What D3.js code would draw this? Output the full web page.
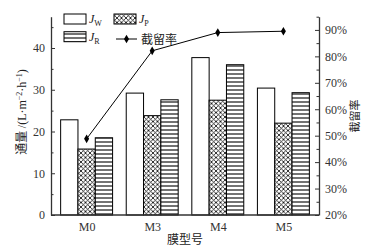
<!DOCTYPE html>
<html><head><meta charset="utf-8">
<script src="https://cdn.jsdelivr.net/npm/d3@7"></script>
<style>body{margin:0;background:#fff}svg{display:block}</style>
</head><body>
<svg id="c" width="370" height="249"></svg>
<script>
const categories = ["M0","M3","M4","M5"];
const jw = [22.8, 29.2, 37.7, 30.4];
const jp = [15.8, 23.8, 27.5, 22.0];
const jr = [18.5, 27.6, 36.0, 29.3];
const retention = [48.8, 82.1, 89.0, 89.5];
const leftTicks = [0,10,20,30,40];
const rightTicks = [20,30,40,50,60,70,80,90];

const svg = d3.select("#c");
const L = 51, R = 319, T = 16.7, B = 215;
const serif = "'Liberation Serif','Times New Roman',serif";
const cjk = "'Noto Sans CJK SC','Liberation Serif',serif";

const defs = svg.append("defs");
const ph = defs.append("pattern").attr("id","hatch").attr("patternUnits","userSpaceOnUse").attr("width",4.5).attr("height",4.5);
ph.append("rect").attr("width",4.5).attr("height",4.5).attr("fill","#fff");
ph.append("path").attr("d","M0,0L4.5,4.5M4.5,0L0,4.5M-1,1L1,-1M3.5,5.5L5.5,3.5M-1,3.5L1,5.5M3.5,-1L5.5,1").attr("stroke","#000").attr("stroke-width",0.8);
const pr = defs.append("pattern").attr("id","hlines").attr("patternUnits","userSpaceOnUse").attr("width",4).attr("height",4);
pr.append("rect").attr("width",4).attr("height",4).attr("fill","#fff");
pr.append("line").attr("x1",0).attr("x2",4).attr("y1",2).attr("y2",2).attr("stroke","#000").attr("stroke-width",1.1);

const x = d3.scalePoint().domain(categories).range([L,R]).padding(0.543);
const step = x.step();
const bw = step*0.264;
const y = d3.scaleLinear().domain([0,47.5]).range([B,T]);
const y2 = d3.scaleLinear().domain([20,95]).range([B,T]);

const series = [
  {vals: jw, fill: "#fff", off: -1.5},
  {vals: jp, fill: "url(#hatch)", off: -0.5},
  {vals: jr, fill: "url(#hlines)", off: 0.5}
];
series.forEach(s => {
  svg.append("g").selectAll("rect").data(categories).join("rect")
    .attr("x", (d) => x(d) + s.off*bw)
    .attr("y", (d,i) => y(s.vals[i]))
    .attr("width", bw)
    .attr("height", (d,i) => B - y(s.vals[i]))
    .attr("fill", s.fill).attr("stroke","#000").attr("stroke-width",1);
});

// axes
const axL = svg.append("g").attr("transform",`translate(${L},0)`)
  .call(d3.axisLeft(y).tickValues(leftTicks).tickSizeInner(-4).tickSizeOuter(0).tickPadding(8));
svg.append("g").attr("transform",`translate(${L},0)`)
  .call(d3.axisLeft(y).tickValues([5,15,25,35,45]).tickSize(-2.5).tickFormat("")).call(g=>g.select(".domain").remove());
const axR = svg.append("g").attr("transform",`translate(${R},0)`)
  .call(d3.axisRight(y2).tickValues(rightTicks).tickSizeInner(-4).tickSizeOuter(0).tickPadding(8).tickFormat(d=>d+"%"));
svg.append("g").attr("transform",`translate(${R},0)`)
  .call(d3.axisRight(y2).tickValues([25,35,45,55,65,75,85,95]).tickSize(-2.5).tickFormat("")).call(g=>g.select(".domain").remove());
const axB = svg.append("g").attr("transform",`translate(0,${B})`)
  .call(d3.axisBottom(x).tickSize(0).tickPadding(7));
axB.select(".domain").attr("d",`M${L},0H${R}`);
svg.selectAll(".domain").attr("stroke","#333").attr("stroke-width",1.3);
svg.selectAll(".tick line").attr("stroke","#333").attr("stroke-width",1);
svg.selectAll(".tick text").attr("font-family",serif).attr("font-size",12).attr("fill","#333");
axL.selectAll(".tick text").attr("dx",2);
axR.selectAll(".tick text").attr("dx",-2);

// retention line
const line = d3.line().x((d,i)=>x(categories[i])).y(d=>y2(d));
svg.append("path").datum(retention).attr("d",line).attr("fill","none").attr("stroke","#000").attr("stroke-width",1);
const sym = d3.symbol().type(d3.symbolDiamond).size(22);
svg.append("g").selectAll("path").data(retention).join("path")
  .attr("transform",(d,i)=>`translate(${x(categories[i])},${y2(d)})`)
  .attr("d",sym).attr("fill","#000");

// axis titles
const lt = svg.append("text").attr("transform","translate(26,112) rotate(-90)")
  .attr("text-anchor","middle").attr("font-size",12).attr("fill","#222");
lt.append("tspan").attr("font-family",cjk).text("通量 ");
lt.append("tspan").attr("font-family",serif).text("/(L·m");
lt.append("tspan").attr("font-family",serif).attr("font-size",8).attr("dy",-4).text("−2");
lt.append("tspan").attr("font-family",serif).attr("dy",4).text("·h");
lt.append("tspan").attr("font-family",serif).attr("font-size",8).attr("dy",-4).text("−1");
lt.append("tspan").attr("font-family",serif).attr("dy",4).text(")");

svg.append("text").attr("transform","translate(359,116) rotate(-90)")
  .attr("text-anchor","middle").attr("font-family",cjk).attr("font-size",11).attr("fill","#222").text("截留率");
svg.append("text").attr("x",185).attr("y",244).attr("text-anchor","middle")
  .attr("font-family",cjk).attr("font-size",12).attr("fill","#222").text("膜型号");

// legend
const leg = [
  {fill:"#fff", sub:"W", x:64, y:14},
  {fill:"url(#hatch)", sub:"P", x:114, y:14},
  {fill:"url(#hlines)", sub:"R", x:64, y:31.7}
];
leg.forEach(d=>{
  svg.append("rect").attr("x",d.x).attr("y",d.y).attr("width",22).attr("height",10)
    .attr("fill",d.fill).attr("stroke","#000").attr("stroke-width",1);
  const t = svg.append("text").attr("x",d.x+25).attr("y",d.y+9).attr("font-family",serif).attr("font-size",12).attr("fill","#222");
  t.append("tspan").attr("font-style","italic").text("J");
  t.append("tspan").attr("font-size",8).attr("dy",3).text(d.sub);
});
svg.append("line").attr("x1",116).attr("x2",137).attr("y1",39).attr("y2",39).attr("stroke","#000").attr("stroke-width",1);
svg.append("path").attr("transform","translate(126.5,39)").attr("d",sym).attr("fill","#000");
svg.append("text").attr("x",141).attr("y",43.5).attr("font-family",cjk).attr("font-size",12).attr("fill","#222").text("截留率");
</script>
</body></html>
